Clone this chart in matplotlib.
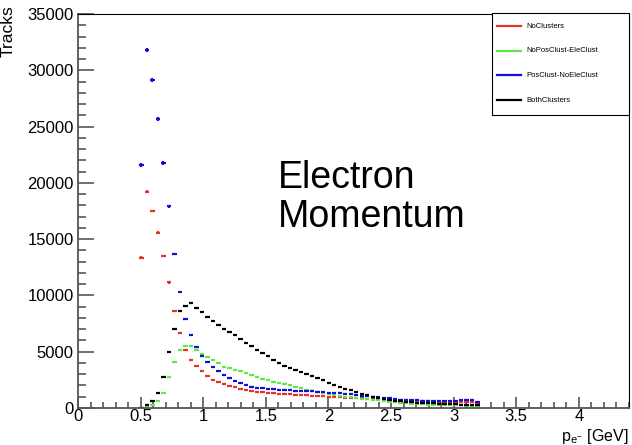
import numpy as np
import matplotlib
matplotlib.use("Agg")
import matplotlib.pyplot as plt
from matplotlib.ticker import MultipleLocator
from matplotlib.lines import Line2D
from matplotlib.patches import Rectangle

plt.rcParams["font.family"] = ["Liberation Sans", "DejaVu Sans"]
plt.rcParams["mathtext.fontset"] = "custom"
plt.rcParams["mathtext.rm"] = "Liberation Sans"
plt.rcParams["mathtext.it"] = "Liberation Sans"

# ============================================================
# Histogram data: 100 bins from 0 to 4.4 GeV, filled bins 11..72
# ============================================================
N_BINS = 100
X_LO, X_HI = 0.0, 4.4
FIRST_BIN = 11

no_clusters = [
    13350, 19210, 17500, 15570, 13500, 11160, 8610, 6630, 5120, 4240,
    3700, 3260, 2870, 2510, 2310, 2130, 1970, 1850, 1720, 1620,
    1550, 1420, 1390, 1320, 1300, 1280, 1250, 1220, 1190, 1160,
    1130, 1100, 1070, 1040, 1000, 970, 950, 920, 900, 870,
    850, 820, 800, 780, 750, 720, 700, 680, 650, 640,
    620, 610, 590, 570, 560, 560, 550, 560, 570, 560,
    550, 360,
]

no_pos_ele = [
    0, 50, 270, 650, 1300, 2730, 4060, 5120, 5500, 5500,
    5150, 4770, 4560, 4260, 3970, 3670, 3580, 3400, 3290, 3080,
    2900, 2750, 2600, 2460, 2310, 2200, 2100, 2000, 1880, 1760,
    1640, 1520, 1400, 1300, 1220, 1140, 1070, 1000, 960, 900,
    840, 780, 720, 680, 620, 560, 500, 450, 410, 380,
    350, 330, 310, 290, 270, 260, 250, 240, 230, 220,
    210, 180,
]

pos_no_ele = [
    21580, 31800, 29100, 25650, 21760, 17940, 13680, 10330, 7880, 6460,
    5390, 4590, 4060, 3670, 3260, 2960, 2640, 2400, 2220, 2020,
    1890, 1800, 1800, 1720, 1650, 1620, 1600, 1580, 1550, 1530,
    1510, 1470, 1420, 1390, 1350, 1330, 1300, 1250, 1200, 1150,
    1100, 1050, 1000, 950, 900, 850, 800, 750, 710, 690,
    670, 660, 650, 640, 650, 660, 640, 650, 700, 720,
    710, 500,
]

both_clusters = [
    30, 270, 650, 1300, 2730, 5000, 7020, 8610, 9080, 9330,
    8850, 8520, 8090, 7770, 7390, 7020, 6720, 6460, 6110, 5760,
    5480, 5130, 4900, 4600, 4250, 3970, 3750, 3550, 3350, 3200,
    3050, 2850, 2650, 2450, 2250, 2070, 1890, 1720, 1560, 1420,
    1280, 1140, 1000, 900, 810, 730, 660, 600, 560, 520,
    480, 450, 420, 400, 380, 360, 340, 320, 300, 290,
    270, 260,
]

series = [
    ("NoClusters", no_clusters, "#e8302a"),
    ("NoPosClust-EleClust", no_pos_ele, "#5ee84a"),
    ("PosClust-NoEleClust", pos_no_ele, "#1010d8"),
    ("BothClusters", both_clusters, "black"),
]

# ============================================================
# Plot
# ============================================================
W, H = 632, 445
fig = plt.figure(figsize=(W / 100, H / 100), dpi=100)
ax = fig.add_axes([78 / W, 1 - 408 / H, (629 - 78) / W, (408 - 14) / H])

bw = (X_HI - X_LO) / N_BINS
for name, vals, col in series:
    y = np.array(vals, dtype=float)
    x = X_LO + (FIRST_BIN + np.arange(len(y)) + 0.5) * bw
    m = y > 0
    ax.errorbar(x[m], y[m], xerr=0.4 * bw, yerr=np.sqrt(y[m]), fmt="none",
                ecolor=col, elinewidth=1.6, capsize=0)

ax.set_xlim(X_LO, X_HI)
ax.set_ylim(0, 35000)

ax.xaxis.set_major_locator(MultipleLocator(0.5))
ax.xaxis.set_minor_locator(MultipleLocator(0.1))
ax.yaxis.set_major_locator(MultipleLocator(5000))
ax.yaxis.set_minor_locator(MultipleLocator(1000))
ax.xaxis.set_major_formatter(lambda v, p: f"{v:g}")

ax.tick_params(axis="y", which="major", direction="in", length=11.5, width=1.2,
               color="#555555", labelsize=12, pad=3)
ax.tick_params(axis="y", which="minor", direction="in", length=5.8, width=1.2,
               color="#555555")
ax.tick_params(axis="x", which="major", direction="in", length=8, width=1.2,
               color="#555555", labelsize=12, pad=1)
ax.tick_params(axis="x", which="minor", direction="in", length=4.3, width=1.2,
               color="#555555")

for s in ("left", "bottom"):
    ax.spines[s].set_color("#555555")
    ax.spines[s].set_linewidth(1.3)
for s in ("top", "right"):
    ax.spines[s].set_color("black")
    ax.spines[s].set_linewidth(0.8)

# axis titles
fig.text(628 / W, 1 - 436 / H, r"p$_{e^{-}}$ [GeV]", ha="right", va="center",
         fontsize=11.5)
fig.text(8 / W, 1 - 31 / H, "Tracks", rotation=90, ha="center", va="center",
         fontsize=12.5)

# big annotation
ax.text(278 / W, 1 - 160 / H, "Electron\nMomentum", transform=fig.transFigure,
        ha="left", va="top", fontsize=27, linespacing=1.1)

# legend box (ROOT style)
lx0, lx1, ly0, ly1 = 492, 629, 13, 115
fig.patches.append(Rectangle((lx0 / W, 1 - ly1 / H), (lx1 - lx0) / W,
                             (ly1 - ly0) / H, transform=fig.transFigure,
                             facecolor="white", edgecolor="black", lw=0.8,
                             zorder=5))
for i, (name, vals, col) in enumerate(series):
    yy = 1 - (26 + 24.7 * i) / H
    fig.lines.append(Line2D([497 / W, 521 / W], [yy, yy], color=col, lw=1.6,
                            transform=fig.transFigure, zorder=6))
    fig.text(526 / W, yy, name, fontsize=5.5, ha="left", va="center", zorder=6)

fig.savefig("out.png", dpi=100)
